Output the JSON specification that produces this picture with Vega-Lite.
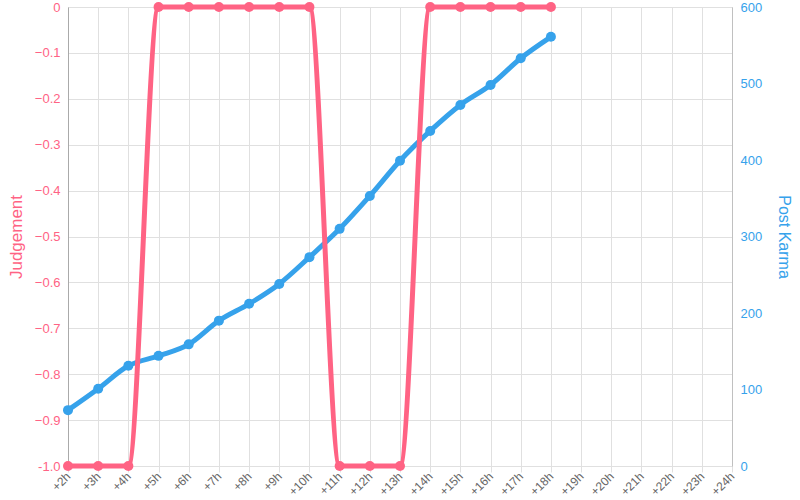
{
  "$schema": "https://vega.github.io/schema/vega-lite/v6.json",
  "autosize": "none",
  "width": 664,
  "height": 459,
  "padding": {"left": 68, "top": 7, "right": 68, "bottom": 34},
  "background": "white",
  "config": {
    "view": {"stroke": "#d0d0d0"},
    "font": "Liberation Sans",
    "axis": {"labelFont": "Liberation Sans", "titleFont": "Liberation Sans", "titleFontWeight": "normal"}
  },
  "data": {
    "values": [
      {"hour": 2, "judgement": -1, "karma": 73},
      {"hour": 3, "judgement": -1, "karma": 101},
      {"hour": 4, "judgement": -1, "karma": 131},
      {"hour": 5, "judgement": 0, "karma": 144},
      {"hour": 6, "judgement": 0, "karma": 159},
      {"hour": 7, "judgement": 0, "karma": 190},
      {"hour": 8, "judgement": 0, "karma": 212},
      {"hour": 9, "judgement": 0, "karma": 238},
      {"hour": 10, "judgement": 0, "karma": 273},
      {"hour": 11, "judgement": -1, "karma": 310},
      {"hour": 12, "judgement": -1, "karma": 353},
      {"hour": 13, "judgement": -1, "karma": 399},
      {"hour": 14, "judgement": 0, "karma": 438},
      {"hour": 15, "judgement": 0, "karma": 472},
      {"hour": 16, "judgement": 0, "karma": 498},
      {"hour": 17, "judgement": 0, "karma": 533},
      {"hour": 18, "judgement": 0, "karma": 561}
    ]
  },
  "encoding": {
    "x": {
      "field": "hour",
      "type": "quantitative",
      "scale": {"domain": [2, 24], "nice": false, "zero": false},
      "axis": {
        "title": null,
        "values": [2,3,4,5,6,7,8,9,10,11,12,13,14,15,16,17,18,19,20,21,22,23,24],
        "labelExpr": "'+' + datum.value + 'h'",
        "labelAngle": -45,
        "labelAlign": "right",
        "labelBaseline": "middle",
        "labelColor": "#666666",
        "labelFontSize": 12,
        "labelPadding": 2,
        "grid": true,
        "gridColor": "#e0e0e0",
        "domain": false,
        "tickColor": "#e0e0e0",
        "tickSize": 6,
        "labelOverlap": false,
        "labelBound": false,
        "labelFlush": false
      }
    }
  },
  "layer": [
    {
      "mark": {"type": "line", "color": "#36a2eb", "strokeWidth": 5, "interpolate": "monotone", "clip": false, "point": {"filled": true, "size": 100, "color": "#36a2eb", "opacity": 1}},
      "encoding": {
        "y": {
          "field": "karma",
          "type": "quantitative",
          "scale": {"domain": [0, 600], "nice": false},
          "axis": {
            "orient": "right",
            "title": "Post Karma",
            "titleColor": "#36a2eb",
            "titleFontSize": 16,
            "titlePadding": 14,
            "labelColor": "#36a2eb",
            "labelFontSize": 13,
            "labelPadding": 8,
            "values": [0, 100, 200, 300, 400, 500, 600],
            "grid": false,
            "ticks": false,
            "domainColor": "#c0c0c0"
          }
        }
      }
    },
    {
      "mark": {"type": "line", "color": "#ff6384", "strokeWidth": 5, "interpolate": "monotone", "clip": false, "point": {"filled": true, "size": 100, "color": "#ff6384", "opacity": 1}},
      "encoding": {
        "y": {
          "field": "judgement",
          "type": "quantitative",
          "scale": {"domain": [-1, 0], "nice": false},
          "axis": {
            "orient": "left",
            "title": "Judgement",
            "titleColor": "#ff6384",
            "titleFontSize": 17,
            "titlePadding": 9,
            "labelColor": "#ff6384",
            "labelFontSize": 13,
            "labelPadding": 8,
            "values": [-1, -0.9, -0.8, -0.7, -0.6, -0.5, -0.4, -0.3, -0.2, -0.1, 0],
            "labelExpr": "datum.value == 0 ? '0' : datum.value == -1 ? '-1.0' : format(datum.value, '.1f')",
            "grid": true,
            "gridColor": "#e0e0e0",
            "ticks": false,
            "domainColor": "#aaaaaa"
          }
        }
      }
    }
  ],
  "resolve": {"scale": {"y": "independent"}}
}
